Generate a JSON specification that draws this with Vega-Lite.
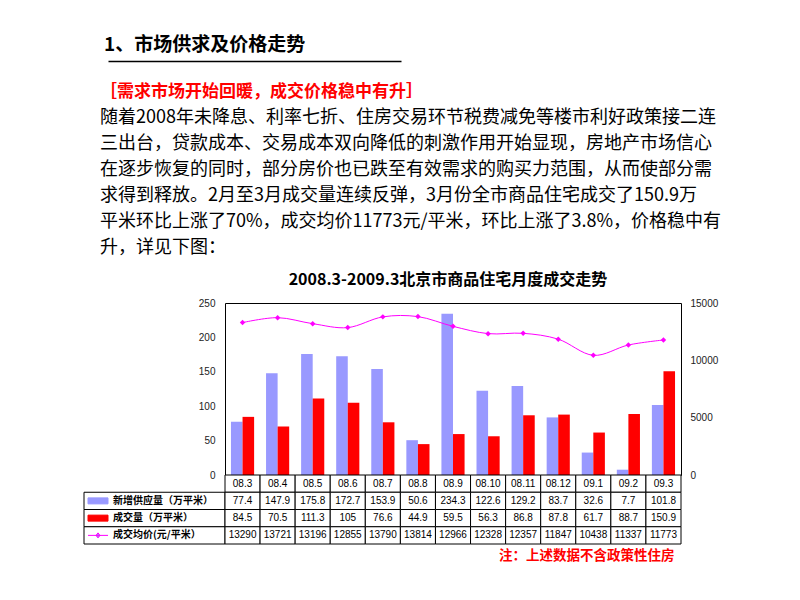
{
  "$schema": "https://vega.github.io/schema/vega-lite/v6.json",
  "background": "white",
  "padding": {"left": 83, "top": 36, "right": 10, "bottom": 10},
  "config": {
    "view": {"stroke": null},
    "font": "Noto Sans CJK SC",
    "title": {"color": "black"}
  },
  "datasets": {
    "m": [
      {"month": "08.3", "supply": 77.4, "deal": 84.5, "price": 13290},
      {"month": "08.4", "supply": 147.9, "deal": 70.5, "price": 13721},
      {"month": "08.5", "supply": 175.8, "deal": 111.3, "price": 13196},
      {"month": "08.6", "supply": 172.7, "deal": 105, "price": 12855},
      {"month": "08.7", "supply": 153.9, "deal": 76.6, "price": 13790},
      {"month": "08.8", "supply": 50.6, "deal": 44.9, "price": 13814},
      {"month": "08.9", "supply": 234.3, "deal": 59.5, "price": 12966},
      {"month": "08.10", "supply": 122.6, "deal": 56.3, "price": 12328},
      {"month": "08.11", "supply": 129.2, "deal": 86.8, "price": 12357},
      {"month": "08.12", "supply": 83.7, "deal": 87.8, "price": 11847},
      {"month": "09.1", "supply": 32.6, "deal": 61.7, "price": 10438},
      {"month": "09.2", "supply": 7.7, "deal": 88.7, "price": 11337},
      {"month": "09.3", "supply": 101.8, "deal": 150.9, "price": 11773}
    ],
    "labels": [
      {"row": "supply", "label": "新增供应量（万平米）"},
      {"row": "deal", "label": "成交量（万平米）"},
      {"row": "price", "label": "成交均价(元/平米）"}
    ]
  },
  "spacing": 0,
  "bounds": "flush",
  "vconcat": [
    {
      "width": 317,
      "height": 199,
      "data": {"values": [{}]},
      "title": {
        "text": "1、市场供求及价格走势",
        "anchor": "start",
        "frame": "group",
        "fontSize": 19,
        "fontWeight": "bold",
        "color": "black",
        "dx": 20,
        "offset": 6
      },
      "mark": {"type": "point", "opacity": 0},
      "encoding": {
        "x": {
          "datum": 0,
          "type": "quantitative",
          "scale": {"domain": [0, 1], "range": [24, 317]},
          "axis": {
            "orient": "top",
            "domain": true,
            "domainColor": "black",
            "domainWidth": 1.5,
            "ticks": false,
            "labels": false,
            "grid": false,
            "title": null
          }
        }
      }
    },
    {
      "width": 597,
      "height": 43,
      "data": {"values": [{}]},
      "title": {
        "text": "［需求市场开始回暖，成交价格稳中有升］",
        "subtitle": [
          "随着2008年未降息、利率七折、住房交易环节税费减免等楼市利好政策接二连",
          "三出台，贷款成本、交易成本双向降低的刺激作用开始显现，房地产市场信心",
          "在逐步恢复的同时，部分房价也已跌至有效需求的购买力范围，从而使部分需",
          "求得到释放。2月至3月成交量连续反弹，3月份全市商品住宅成交了150.9万",
          "平米环比上涨了70%，成交均价11773元/平米，环比上涨了3.8%，价格稳中有",
          "升，详见下图："
        ],
        "anchor": "start",
        "frame": "group",
        "dx": 16,
        "offset": 2,
        "fontSize": 17,
        "fontWeight": "bold",
        "color": "#FF0000",
        "subtitleFontSize": 18,
        "subtitleColor": "black",
        "subtitleFontWeight": "normal",
        "subtitleLineHeight": 26,
        "subtitlePadding": 8
      },
      "mark": {"type": "point", "opacity": 0}
    },
    {
      "columns": 2,
      "spacing": 0,
      "bounds": "flush",
      "concat": [
        {
          "width": 141,
          "height": 172,
          "data": {"values": [{}]},
          "mark": {"type": "point", "opacity": 0}
        },
        {
          "width": 456,
          "height": 172,
          "view": {"stroke": "black", "strokeWidth": 1},
          "title": {
            "text": "2008.3-2009.3北京市商品住宅月度成交走势",
            "fontSize": 16,
            "fontWeight": "bold",
            "anchor": "middle",
            "dx": -5,
            "offset": 10,
            "color": "black"
          },
          "data": {"name": "m"},
          "layer": [
            {
              "transform": [{"fold": ["supply", "deal"], "as": ["series", "v"]}],
              "mark": {"type": "bar"},
              "encoding": {
                "x": {
                  "field": "month",
                  "type": "nominal",
                  "scale": {
                    "domain": ["08.3", "08.4", "08.5", "08.6", "08.7", "08.8", "08.9", "08.10", "08.11", "08.12", "09.1", "09.2", "09.3"],
                    "paddingInner": 0.34,
                    "paddingOuter": 0.17
                  },
                  "axis": null
                },
                "xOffset": {
                  "field": "series",
                  "type": "nominal",
                  "scale": {"domain": ["supply", "deal"], "paddingInner": 0, "paddingOuter": 0}
                },
                "y": {
                  "field": "v",
                  "type": "quantitative",
                  "scale": {"domain": [0, 250]},
                  "axis": {
                    "values": [0, 50, 100, 150, 200, 250],
                    "ticks": false,
                    "domain": false,
                    "grid": false,
                    "title": null,
                    "labelFont": "Liberation Sans",
                    "labelFontSize": 10,
                    "labelColor": "#222222",
                    "labelPadding": 10
                  }
                },
                "color": {
                  "field": "series",
                  "type": "nominal",
                  "scale": {"domain": ["supply", "deal"], "range": ["#9999FF", "#FF0000"]},
                  "legend": null
                }
              }
            },
            {
              "mark": {
                "type": "line",
                "color": "#FF00FF",
                "strokeWidth": 1,
                "interpolate": "cardinal",
                "point": {"shape": "diamond", "size": 30, "filled": true, "color": "#FF00FF"}
              },
              "encoding": {
                "x": {
                  "field": "month",
                  "type": "nominal",
                  "scale": {
                    "domain": ["08.3", "08.4", "08.5", "08.6", "08.7", "08.8", "08.9", "08.10", "08.11", "08.12", "09.1", "09.2", "09.3"],
                    "paddingInner": 0.34,
                    "paddingOuter": 0.17
                  },
                  "axis": null
                },
                "y": {
                  "field": "price",
                  "type": "quantitative",
                  "scale": {"domain": [0, 15000]},
                  "axis": {
                    "orient": "right",
                    "values": [0, 5000, 10000, 15000],
                    "format": "d",
                    "ticks": false,
                    "domain": false,
                    "grid": false,
                    "title": null,
                    "labelFont": "Liberation Sans",
                    "labelFontSize": 10,
                    "labelColor": "#222222",
                    "labelPadding": 9
                  }
                }
              }
            }
          ],
          "resolve": {"scale": {"y": "independent"}}
        },
        {
          "width": 141,
          "height": 69,
          "data": {"name": "labels"},
          "encoding": {
            "y": {
              "field": "row",
              "type": "nominal",
              "scale": {"domain": ["month", "supply", "deal", "price"], "paddingInner": 0, "paddingOuter": 0},
              "axis": null
            },
            "x": {
              "datum": "c",
              "type": "nominal",
              "scale": {"paddingInner": 0, "paddingOuter": 0},
              "axis": null
            }
          },
          "layer": [
            {"mark": {"type": "rect", "fill": "white", "stroke": "black", "strokeWidth": 1}},
            {
              "mark": {"type": "point", "filled": true, "size": 400, "xOffset": 14, "strokeWidth": 1, "opacity": 1},
              "encoding": {
                "x": {"datum": "c", "type": "nominal", "bandPosition": 0},
                "shape": {
                  "field": "row",
                  "type": "nominal",
                  "scale": {
                    "domain": ["supply", "deal", "price"],
                    "range": ["M-1,-0.3H1V0.3H-1Z", "M-1,-0.3H1V0.3H-1Z", "M-1,0H1M0,-0.25L0.2,0L0,0.25L-0.2,0Z"]
                  },
                  "legend": null
                },
                "color": {
                  "field": "row",
                  "type": "nominal",
                  "scale": {"domain": ["supply", "deal", "price"], "range": ["#9999FF", "#FF0000", "#FF00FF"]},
                  "legend": null
                },
                "stroke": {
                  "field": "row",
                  "type": "nominal",
                  "scale": {"domain": ["supply", "deal", "price"], "range": ["#9999FF", "#FF0000", "#FF00FF"]},
                  "legend": null
                }
              }
            },
            {
              "mark": {"type": "text", "align": "left", "dx": 29, "fontSize": 10, "fontWeight": "bold", "color": "black"},
              "encoding": {
                "x": {"datum": "c", "type": "nominal", "bandPosition": 0},
                "text": {"field": "label"}
              }
            }
          ]
        },
        {
          "width": 456,
          "height": 69,
          "data": {"name": "m"},
          "transform": [{"fold": ["month", "supply", "deal", "price"], "as": ["row", "v"]}],
          "encoding": {
            "x": {
              "field": "month",
              "type": "nominal",
              "scale": {
                "domain": ["08.3", "08.4", "08.5", "08.6", "08.7", "08.8", "08.9", "08.10", "08.11", "08.12", "09.1", "09.2", "09.3"],
                "paddingInner": 0,
                "paddingOuter": 0
              },
              "axis": {
                "orient": "bottom",
                "labels": false,
                "ticks": false,
                "domain": false,
                "title": "注：上述数据不含政策性住房",
                "titleColor": "#FF0000",
                "titleFontSize": 13.5,
                "titleFontWeight": "bold",
                "titleFont": "Noto Sans CJK SC",
                "titleAnchor": "end",
                "titleAlign": "right",
                "titleX": 449,
                "titlePadding": 4
              }
            },
            "y": {
              "field": "row",
              "type": "nominal",
              "scale": {"domain": ["month", "supply", "deal", "price"], "paddingInner": 0, "paddingOuter": 0},
              "axis": null
            }
          },
          "layer": [
            {"mark": {"type": "rect", "fill": "white", "stroke": "black", "strokeWidth": 1}},
            {
              "mark": {"type": "text", "font": "Liberation Sans", "fontSize": 10, "color": "black"},
              "encoding": {"text": {"field": "v", "type": "nominal"}}
            }
          ]
        }
      ]
    }
  ]
}
